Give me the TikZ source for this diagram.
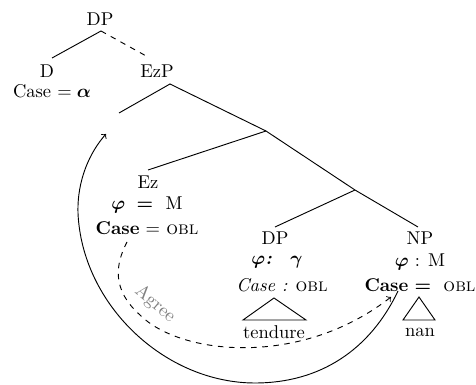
\documentclass[tikz,border=0pt]{standalone}
\usepackage{amsmath,bm}
\begin{document}
\begin{tikzpicture}[x=0.54pt,y=-0.54pt,
  lbl/.style={inner sep=0pt},
  branch/.style={line width=0.5pt},
  movearc/.style={line width=0.5pt,->},
  agreearc/.style={line width=0.5pt,dashed,->}]
\useasboundingbox (0,0) rectangle (476,385);
% labels
\node[lbl] (dp) at (100,19) {DP};
\node[lbl] (d) at (47,71) {D};
\node[lbl] (dcase) at (52,91) {Case $=\boldsymbol{\alpha}$};
\node[lbl] (ezp) at (157,71) {EzP};
\node[lbl] (ez) at (148,182) {Ez};
\node[lbl] (ezphi) at (147,205) {$\boldsymbol{\varphi}\ \boldsymbol{=}$\ \ M};
\node[lbl] (ezcase) at (147,228) {\textbf{Case} $=$ \textsc{obl}};
\node[lbl] (dp2) at (275,238) {DP};
\node[lbl] (dpphi) at (277,262) {$\boldsymbol{\varphi}$\textit{\textbf{:}}\quad$\boldsymbol{\gamma}$};
\node[lbl] (dpcase) at (282,285) {\textit{Case :} \textsc{obl}};
\node[lbl] (np) at (420,238) {NP};
\node[lbl] (npphi) at (420,262) {$\boldsymbol{\varphi}$ : M};
\node[lbl] (npcase) at (420,285) {\textbf{Case} $\boldsymbol{=}$\ \ \textsc{obl}};
\node[lbl] (tend) at (274,332) {tendure};
\node[lbl] (nan) at (420,332) {nan};
% tree points
\coordinate (dpb) at (101,31);
\coordinate (dt) at (52,58);
\coordinate (ezpt) at (148,57);
\coordinate (ezpb) at (170,84);
\coordinate (spec) at (119,113);
\coordinate (xn) at (266,131);
\coordinate (ezt) at (148,170);
\coordinate (yn) at (355,190);
\coordinate (dp2t) at (275,227);
\coordinate (npt) at (418,227);
\draw[branch] (dpb) -- (dt);
\draw[branch,dashed] (dpb) -- (ezpt);
\draw[branch] (spec) -- (ezpb) -- (xn) -- (yn) -- (npt);
\draw[branch] (ezt) -- (xn);
\draw[branch] (dp2t) -- (yn);
% triangles
\draw[branch] (274,298) -- (243,320) -- (306,320) -- cycle;
\draw[branch] (419,297) -- (403,320) -- (435,320) -- cycle;
% arcs
\coordinate (mvstart) at (398,291);
\coordinate (mvend) at (106,134);
\coordinate (agstart) at (127,242);
\coordinate (agend) at (391,297);
\draw[movearc] (mvstart) .. controls (370,350) and (320,383) .. (255,383)
  .. controls (165,383) and (82,305) .. (78,213)
  .. controls (77,180) and (90,152) .. (mvend);
\draw[agreearc] (agstart) .. controls (115,265) and (112,290) .. (140,315)
  .. controls (180,355) and (300,368) .. (agend);
\node[lbl,text=gray,rotate=-40] (agree) at (155,304) {Agree};
\end{tikzpicture}
\end{document}
